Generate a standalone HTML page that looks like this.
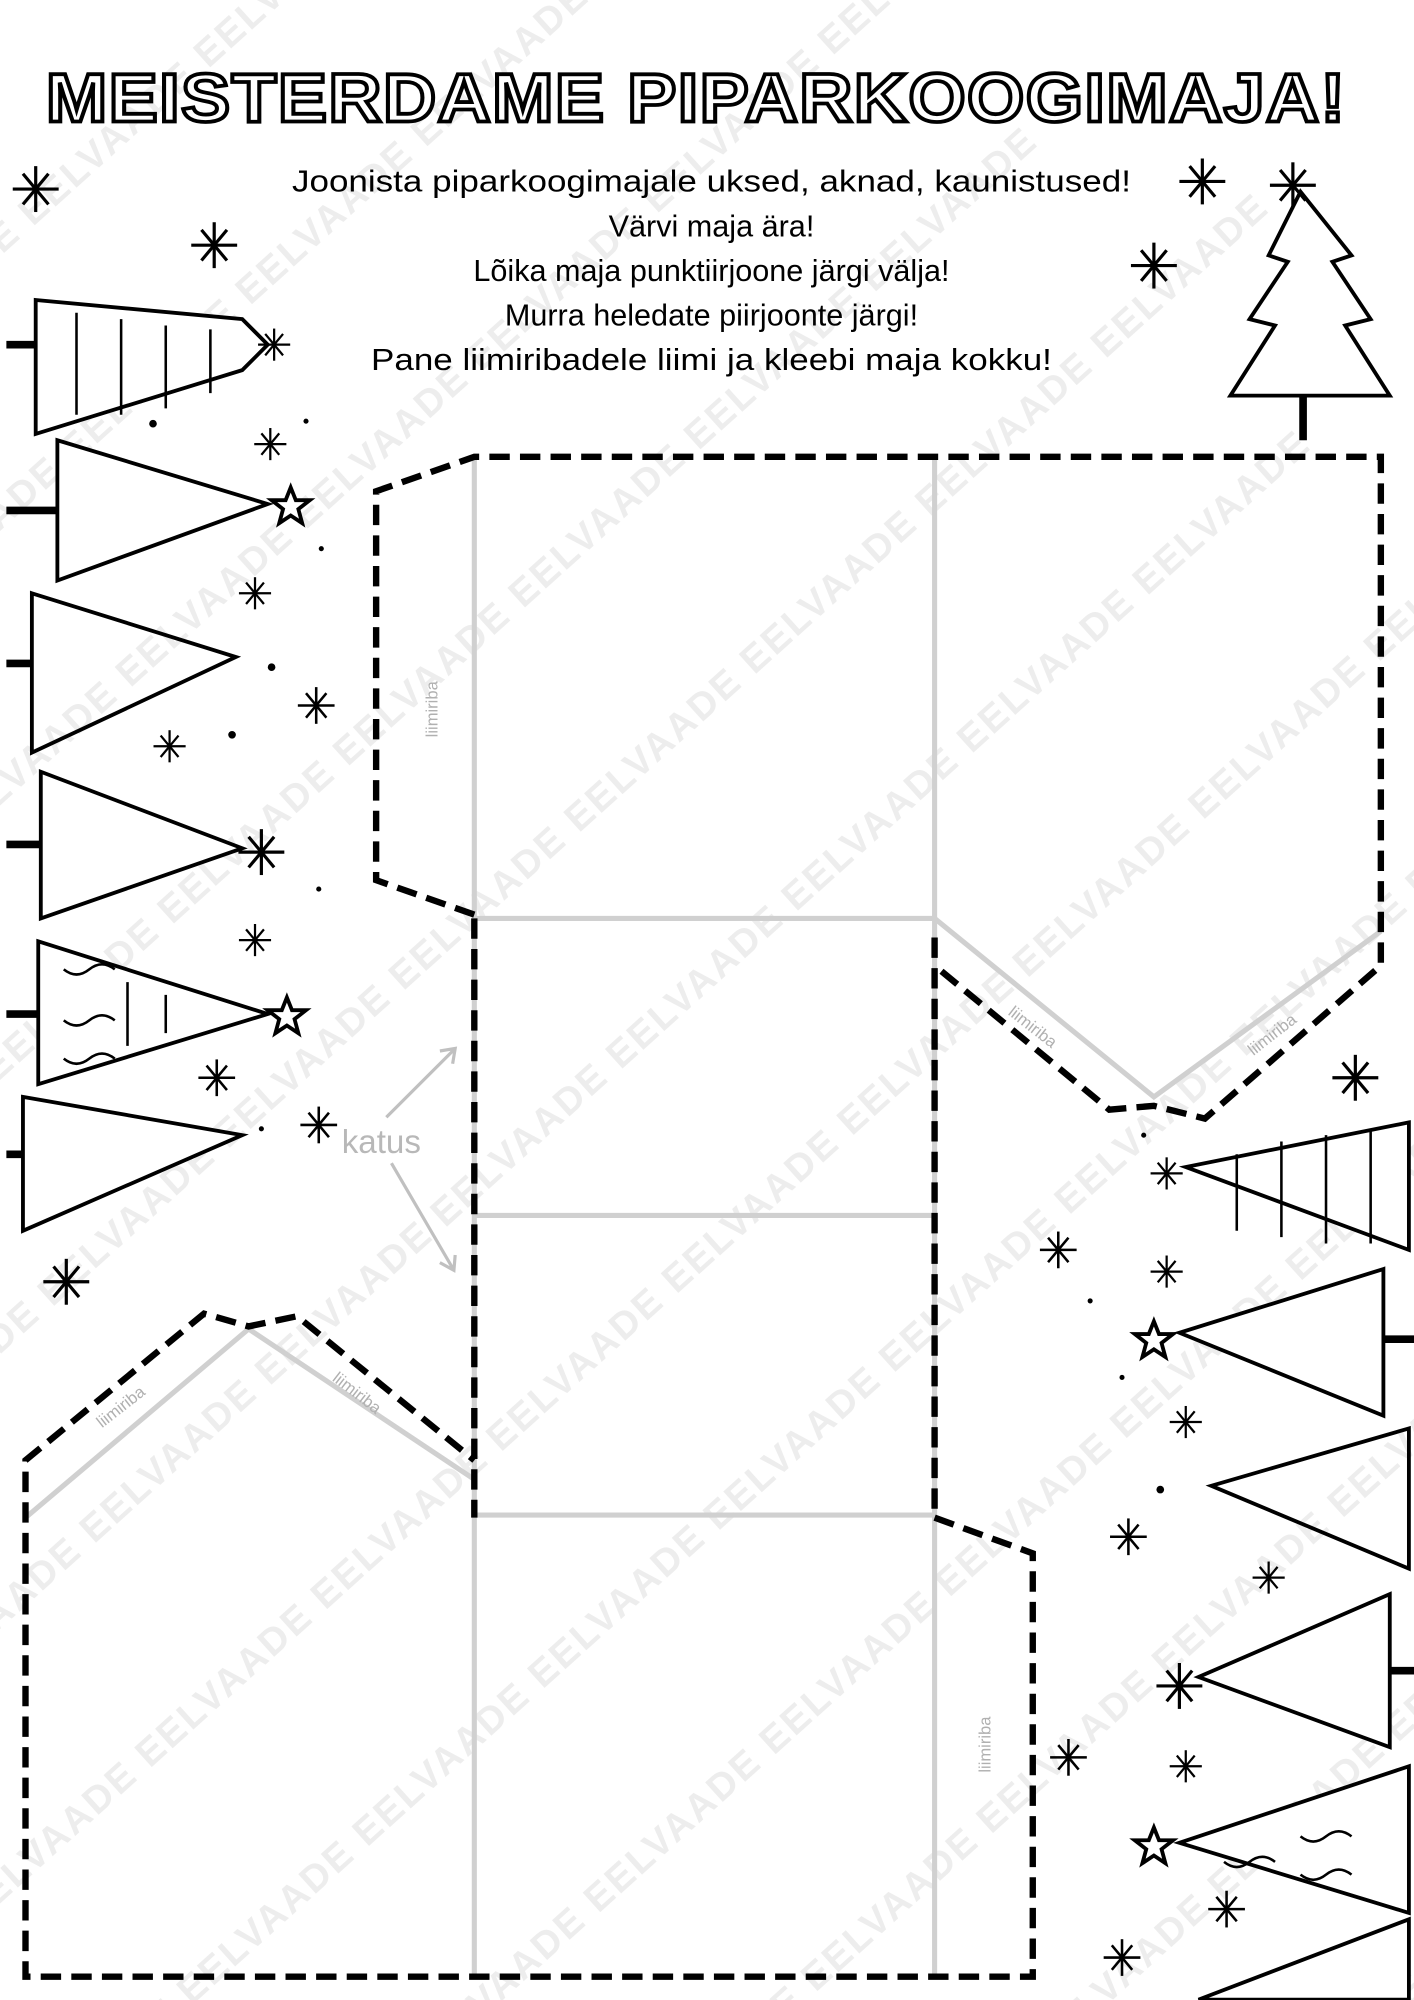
<!DOCTYPE html>
<html><head><meta charset="utf-8"><style>
html,body{margin:0;padding:0;background:#fff;overflow:hidden;width:1414px;height:2000px}
svg{display:block}
</style></head><body>
<svg width="1414" height="2000" viewBox="0 0 1109 1568" xmlns="http://www.w3.org/2000/svg" font-family="Liberation Sans, sans-serif" overflow="hidden">
<defs>
<g id="s"><line x1="-18" y1="0" x2="18" y2="0"/><line x1="0" y1="-18" x2="0" y2="18"/><line x1="-10" y1="-12" x2="10" y2="12"/><line x1="-10" y1="12" x2="10" y2="-12"/></g>
<text id="w" font-size="30" font-weight="bold">EELVAADE        EELVAADE        EELVAADE        EELVAADE        EELVAADE        EELVAADE        EELVAADE        EELVAADE        EELVAADE        EELVAADE        EELVAADE        EELVAADE        EELVAADE</text>
</defs>
<rect width="1109" height="1568" fill="#fff"/>
<g fill="#ededed" letter-spacing="2">
<g transform="rotate(-42 554 784)">
<use href="#w" x="-1200" y="-500"/><use href="#w" x="-1100" y="-340"/>
<use href="#w" x="-1200" y="-180"/><use href="#w" x="-1100" y="-20"/>
<use href="#w" x="-1200" y="140"/><use href="#w" x="-1100" y="300"/>
<use href="#w" x="-1200" y="460"/><use href="#w" x="-1100" y="620"/>
<use href="#w" x="-1200" y="780"/><use href="#w" x="-1100" y="940"/>
<use href="#w" x="-1200" y="1100"/><use href="#w" x="-1100" y="1260"/>
<use href="#w" x="-1200" y="1420"/><use href="#w" x="-1100" y="1580"/>
<use href="#w" x="-1200" y="1740"/><use href="#w" x="-1100" y="1900"/>
<use href="#w" x="-1200" y="2060"/>
</g></g>
<text x="546" y="95" text-anchor="middle" font-size="54" font-weight="bold" fill="#fff" stroke="#000" stroke-width="3" letter-spacing="1" textLength="1020" lengthAdjust="spacingAndGlyphs">MEISTERDAME PIPARKOOGIMAJA!</text>
<g font-size="24" text-anchor="middle" fill="#000">
<text x="558" y="150" textLength="658" lengthAdjust="spacingAndGlyphs">Joonista piparkoogimajale uksed, aknad, kaunistused!</text>
<text x="558" y="185">Värvi maja ära!</text>
<text x="558" y="220">Lõika maja punktiirjoone järgi välja!</text>
<text x="558" y="255">Murra heledate piirjoonte järgi!</text>
<text x="558" y="290" textLength="534" lengthAdjust="spacingAndGlyphs">Pane liimiribadele liimi ja kleebi maja kokku!</text>
</g>
<g stroke="#d0d0d0" stroke-width="4" fill="none">
<line x1="372" y1="358" x2="372" y2="1550"/>
<line x1="733" y1="358" x2="733" y2="1550"/>
<line x1="372" y1="720" x2="733" y2="720"/>
<line x1="372" y1="953" x2="733" y2="953"/>
<line x1="372" y1="1188" x2="733" y2="1188"/>
<polyline points="733,720 905,860 1083,730"/>
<polyline points="20,1190 195,1042 372,1160"/>
</g>
<g stroke="#000" stroke-width="5" fill="none" stroke-dasharray="16,8">
<polyline points="372,717 295,690 295,385 372,358 1083,358 1083,757 945,877 905,867 870,870 733,757"/>
<line x1="733" y1="735" x2="733" y2="1190"/>
<line x1="372" y1="720" x2="372" y2="1190"/>
<polyline points="733,1190 810,1218 810,1550 20,1550 20,1145 160,1030 195,1040 233,1032 372,1145"/>
</g>
<g fill="#b0b0b0" font-size="13">
<text transform="translate(343,578) rotate(-90)">liimiriba</text>
<text transform="translate(790,795) rotate(38)">liimiriba</text>
<text transform="translate(983,828) rotate(-38)">liimiriba</text>
<text transform="translate(80,1120) rotate(-38)">liimiriba</text>
<text transform="translate(260,1082) rotate(38)">liimiriba</text>
<text transform="translate(777,1390) rotate(-90)">liimiriba</text>
</g>
<text x="268" y="904" font-size="26" fill="#b8b8b8">katus</text>
<g stroke="#c0c0c0" stroke-width="2.5" fill="none">
<path d="M303,876 L357,822 M345,824 L357,822 L355,834"/>
<path d="M307,912 L356,996 M345,990 L356,996 L357,984"/>
</g>
<g stroke="#000" stroke-width="3" fill="#fff">
<path d="M28,235 L190,250 L210,270 L190,290 L28,340 Z"/>
<path d="M45,345 L210,395 L45,455 Z"/>
<path d="M25,465 L185,515 L25,590 Z" fill="none"/>
<path d="M32,605 L190,665 L32,720 Z"/>
<path d="M30,738 L210,795 L30,850 Z"/>
<path d="M18,860 L190,890 L18,965 Z"/>
<path d="M1105,880 L930,915 L1105,980 Z"/>
<path d="M1085,995 L925,1045 L1085,1110 Z"/>
<path d="M1105,1120 L950,1165 L1105,1230 Z" fill="none"/>
<path d="M1090,1250 L940,1315 L1090,1370 Z"/>
<path d="M1105,1385 L925,1445 L1105,1500 Z"/>
<path d="M1105,1505 L940,1568 L1105,1568 Z"/>
<path d="M1020,150 L1060,200 L1045,205 L1075,250 L1055,255 L1090,310 L965,310 L1000,255 L980,250 L1010,205 L995,200 Z"/>
</g>
<g stroke="#000" stroke-width="6">
<line x1="5" y1="270" x2="28" y2="270"/><line x1="5" y1="400" x2="45" y2="400"/>
<line x1="5" y1="520" x2="25" y2="520"/><line x1="5" y1="662" x2="32" y2="662"/>
<line x1="5" y1="795" x2="30" y2="795"/><line x1="5" y1="905" x2="18" y2="905"/>
<line x1="1085" y1="1050" x2="1109" y2="1050"/><line x1="1090" y1="1310" x2="1109" y2="1310"/>
<line x1="1022" y1="310" x2="1022" y2="345"/>
</g>
<g stroke="#000" stroke-width="2" fill="none">
<path d="M60,245 v80 M95,250 v75 M130,255 v65 M165,258 v50 M50,760 q10,8 20,0 q10,-8 20,0 M50,800 q10,8 20,0 q10,-8 20,0 M50,830 q10,8 20,0 q10,-8 20,0 M100,770 v50 M130,780 v30"/>
<path d="M970,905 v60 M1005,895 v75 M1040,890 v85 M1075,885 v90 M960,1460 q10,8 20,0 q10,-8 20,0 M1020,1440 q10,8 20,0 q10,-8 20,0 M1020,1470 q10,8 20,0 q10,-8 20,0"/>
</g>
<g stroke="#000" stroke-width="2.5">
<use href="#s" transform="translate(28,148)"/><use href="#s" transform="translate(168,192)"/>
<use href="#s" transform="translate(943,142)"/><use href="#s" transform="translate(905,208)"/>
<use href="#s" transform="translate(1014,145)"/><use href="#s" transform="translate(215,270) scale(.7)"/>
<use href="#s" transform="translate(212,348) scale(.7)"/><use href="#s" transform="translate(200,465) scale(.7)"/>
<use href="#s" transform="translate(248,553) scale(.8)"/><use href="#s" transform="translate(133,585) scale(.7)"/>
<use href="#s" transform="translate(205,668)"/><use href="#s" transform="translate(200,737) scale(.7)"/>
<use href="#s" transform="translate(170,845) scale(.8)"/><use href="#s" transform="translate(250,882) scale(.8)"/>
<use href="#s" transform="translate(52,1005)"/><use href="#s" transform="translate(1063,845)"/>
<use href="#s" transform="translate(915,920) scale(.7)"/><use href="#s" transform="translate(830,980) scale(.8)"/>
<use href="#s" transform="translate(915,997) scale(.7)"/><use href="#s" transform="translate(930,1115) scale(.7)"/>
<use href="#s" transform="translate(885,1205) scale(.8)"/><use href="#s" transform="translate(995,1237) scale(.7)"/>
<use href="#s" transform="translate(925,1322)"/><use href="#s" transform="translate(838,1378) scale(.8)"/>
<use href="#s" transform="translate(930,1385) scale(.7)"/><use href="#s" transform="translate(962,1497) scale(.8)"/>
<use href="#s" transform="translate(880,1535) scale(.8)"/>
</g>
<g fill="#fff" stroke="#000" stroke-width="3">
<path d="M228,382 l4,10 11,0 -9,7 3,11 -9,-6 -9,6 3,-11 -9,-7 11,0z"/>
<path d="M225,782 l4,10 11,0 -9,7 3,11 -9,-6 -9,6 3,-11 -9,-7 11,0z"/>
<path d="M905,1036 l4,10 11,0 -9,7 3,11 -9,-6 -9,6 3,-11 -9,-7 11,0z"/>
<path d="M905,1433 l4,10 11,0 -9,7 3,11 -9,-6 -9,6 3,-11 -9,-7 11,0z"/>
</g>
<g fill="#000">
<circle cx="120" cy="332" r="3"/><circle cx="240" cy="330" r="2"/><circle cx="252" cy="430" r="2"/>
<circle cx="213" cy="523" r="3"/><circle cx="182" cy="576" r="3"/><circle cx="250" cy="697" r="2"/>
<circle cx="205" cy="885" r="2"/><circle cx="897" cy="890" r="2"/><circle cx="880" cy="1080" r="2"/>
<circle cx="910" cy="1168" r="3"/><circle cx="855" cy="1020" r="2"/>
</g>
</svg>
</body></html>
